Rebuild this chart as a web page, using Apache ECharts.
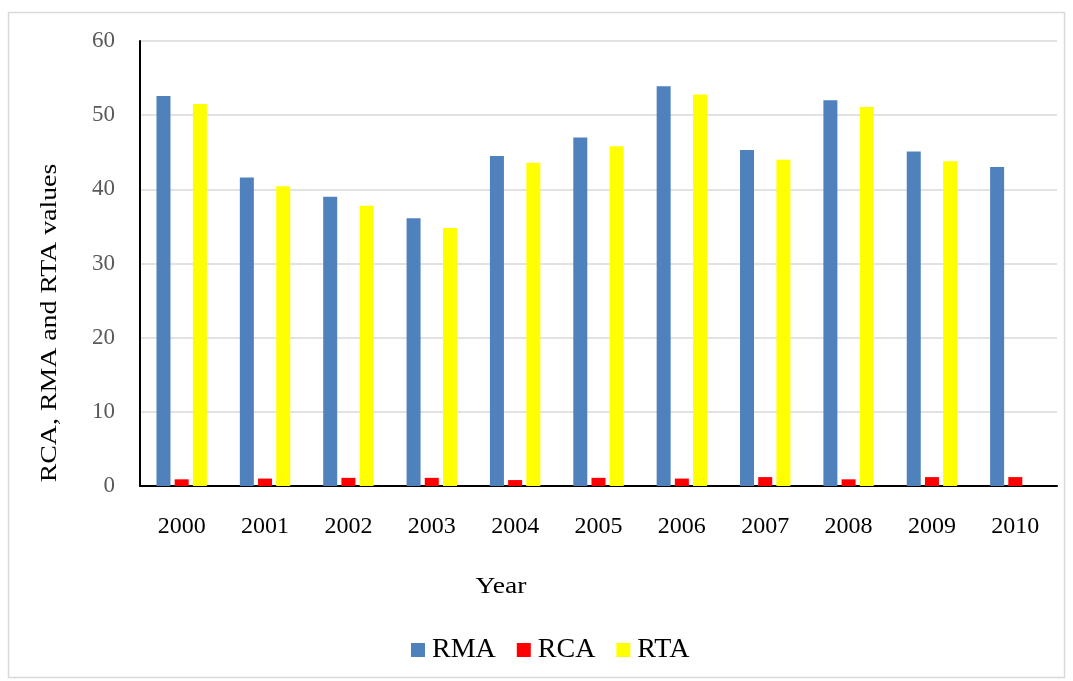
<!DOCTYPE html>
<html><head><meta charset="utf-8">
<script src="https://cdn.jsdelivr.net/npm/echarts@6/dist/echarts.min.js"></script>
<style>html,body{margin:0;padding:0;background:#fff}#c{width:1073px;height:681px}</style>
</head><body><div id="c"></div>
<script>
const years = ['2000','2001','2002','2003','2004','2005','2006','2007','2008','2009','2010'];
const rma = [52.6, 41.6, 39.0, 36.1, 44.5, 47.0, 53.9, 45.3, 52.0, 45.1, 43.0];
const rca = [0.9, 1.0, 1.1, 1.1, 0.8, 1.1, 1.0, 1.2, 0.9, 1.2, 1.2];
const rta = [51.5, 40.4, 37.8, 34.8, 43.6, 45.8, 52.8, 44.0, 51.1, 43.8, null];
const yTicks = [0, 10, 20, 30, 40, 50, 60];

const font = '"Liberation Serif", "Times New Roman", serif';
const chart = echarts.init(document.getElementById('c'));
chart.setOption({
  animation: false,
  backgroundColor: '#fff',
  graphic: [
    {type: 'rect', shape: {x: 8.5, y: 12.5, width: 1056, height: 665}, style: {fill: 'none', stroke: '#d9d9d9', lineWidth: 1.5}},
    {type: 'text', x: 50, y: 323, rotation: Math.PI / 2, scaleX: 1.16, style: {text: 'RCA, RMA and RTA values', font: '24px ' + font, fill: '#000', textAlign: 'center', textVerticalAlign: 'middle'}},
    {type: 'text', x: 501, y: 587, scaleX: 1.15, style: {text: 'Year', font: '24px ' + font, fill: '#000', textAlign: 'center', textVerticalAlign: 'middle'}}
  ],
  grid: {left: 140, right: 16, top: 41, bottom: 195, containLabel: false},
  legend: {
    top: 631, left: 406,
    itemWidth: 14, itemHeight: 14, itemGap: 21,
    icon: 'rect',
    textStyle: {fontFamily: font, fontSize: 28, color: '#000', padding: [0, 0, 0, 2]},
    data: ['RMA', 'RCA', 'RTA']
  },
  xAxis: {
    type: 'category', data: years,
    axisLine: {lineStyle: {color: '#000', width: 2}},
    axisTick: {show: false},
    axisLabel: {fontFamily: font, fontSize: 24, color: '#000', margin: 29}
  },
  yAxis: {
    type: 'value', min: 0, max: 60, interval: 10,
    axisLine: {show: true, lineStyle: {color: '#000', width: 2}},
    axisTick: {show: false},
    axisLabel: {fontFamily: font, fontSize: 23, color: '#595959', margin: 25,
      formatter: v => yTicks.includes(v) ? String(v) : ''},
    splitLine: {lineStyle: {color: '#d9d9d9', width: 1.5}}
  },
  series: [
    {name: 'RMA', type: 'bar', data: rma, itemStyle: {color: '#4F81BD'}, barWidth: 14, barGap: '30%', barCategoryGap: '40%'},
    {name: 'RCA', type: 'bar', data: rca, itemStyle: {color: '#FF0000'}, barWidth: 14, barGap: '30%'},
    {name: 'RTA', type: 'bar', data: rta, itemStyle: {color: '#FFFF00'}, barWidth: 14, barGap: '30%'}
  ]
});
</script></body></html>
